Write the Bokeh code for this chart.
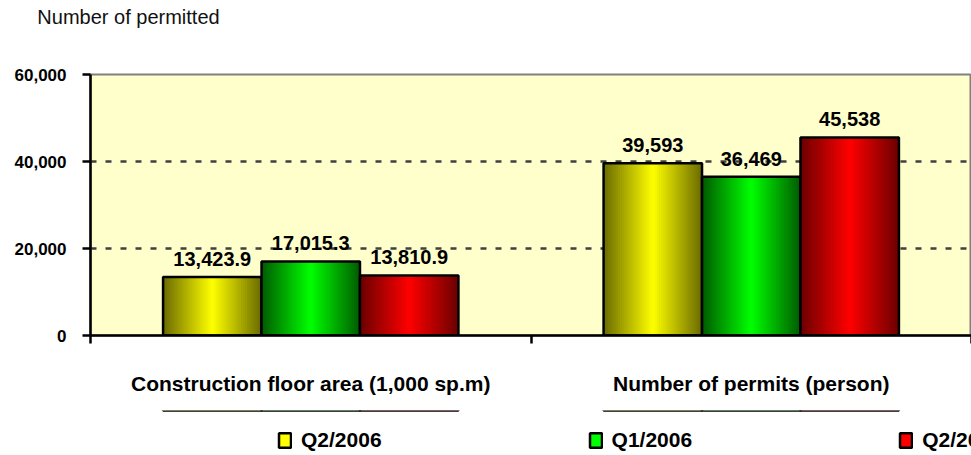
from bokeh.plotting import figure
from bokeh.layouts import column
from bokeh.models import (Range1d, LinearAxis, FixedTicker,
                          NumeralTickFormatter, Legend, LegendItem, ColumnDataSource)
from bokeh.transform import dodge
from bokeh.core.properties import value
from bokeh.embed import file_html
from bokeh.resources import INLINE

# ---- data ----
categories = ["Construction floor area (1,000 sp.m)", "Number of permits (person)"]
series_names = ["Q2/2006", "Q1/2006", "Q2/2005"]
q2_2006 = [13423.9, 39593]
q1_2006 = [17015.3, 36469]
q2_2005 = [13810.9, 45538]
label_decimals = [1, 0]
y_ticks = [0, 20000, 40000, 60000]
title_text = "Number of permitted"

# ---- styles ----
FONT = "Liberation Sans"
bright = ["#FFFF00", "#00FF00", "#FF0000"]
dark = ["#6A6A00", "#005A00", "#6A0000"]
bar_w = 0.2235
offsets = [-bar_w, 0.0, bar_w]
title_pos = 0.0863   # horizontal centre of the title, in category units

ncat = len(categories)
centers = [i + 0.5 for i in range(ncat)]
edges = [float(i) for i in range(ncat + 1)]
series_vals = [q2_2006, q1_2006, q2_2005]
keys = ["s0", "s1", "s2"]
data = dict(xc=centers)
for k, vals in zip(keys, series_vals):
    data[k] = vals
    data[k + "_lbl"] = [f"{v:,.{d}f}" for v, d in zip(vals, label_decimals)]
src = ColumnDataSource(data)

p = figure(x_range=Range1d(0, ncat),
           y_range=Range1d(0, 60000),
           frame_width=881, frame_height=261,
           output_backend="svg", toolbar_location=None,
           x_axis_location=None,
           min_border_left=90, min_border_right=0, min_border_top=74, min_border_bottom=75)

p.background_fill_color = "#FFFFCC"
p.border_fill_color = "white"
p.outline_line_color = "#808080"
p.outline_line_width = 2

# title text, drawn as the single label of an otherwise invisible top axis
tax = LinearAxis(ticker=FixedTicker(ticks=[title_pos]),
                 major_label_overrides={title_pos: title_text},
                 axis_line_color=None, major_tick_line_color=None, minor_tick_line_color=None,
                 major_tick_in=0, major_tick_out=0, minor_tick_out=0,
                 major_label_text_font=FONT, major_label_text_font_size="20px",
                 major_label_text_font_style="normal", major_label_text_color="#111111",
                 major_label_standoff=47)
p.add_layout(tax, "above")

# grid
p.xgrid.visible = False
p.ygrid.ticker = FixedTicker(ticks=y_ticks[1:])
p.ygrid.grid_line_color = "#404040"
p.ygrid.grid_line_dash = "6 9"
p.ygrid.grid_line_width = 2.5

# y axis
yax = p.yaxis[0]
yax.ticker = FixedTicker(ticks=y_ticks)
yax.formatter = NumeralTickFormatter(format="0,0")
yax.axis_line_color = "black"
yax.axis_line_width = 2.5
yax.major_tick_line_color = "black"
yax.major_tick_line_width = 2.5
yax.major_tick_in = 0
yax.major_tick_out = 8
yax.minor_tick_line_color = None
yax.major_label_text_font = FONT
yax.major_label_text_font_size = "17px"
yax.major_label_text_font_style = "bold"
yax.major_label_text_color = "black"
yax.major_label_standoff = 16

# x axis: category names at centers, tick marks at category boundaries
xax = LinearAxis(ticker=FixedTicker(ticks=centers, minor_ticks=edges),
                 major_label_overrides={c: name for c, name in zip(centers, categories)},
                 axis_line_color="black", axis_line_width=2.5,
                 major_tick_line_color=None, major_tick_in=0, major_tick_out=8,
                 minor_tick_line_color="black", minor_tick_line_width=2.5,
                 minor_tick_in=0, minor_tick_out=8,
                 major_label_text_font=FONT, major_label_text_font_size="21px",
                 major_label_text_font_style="bold", major_label_text_color="black",
                 major_label_standoff=28)
p.add_layout(xax, "below")

# bars with simulated horizontal gradient
def mix(c1, c2, t):
    a = [int(c1[i:i + 2], 16) for i in (1, 3, 5)]
    b = [int(c2[i:i + 2], 16) for i in (1, 3, 5)]
    return "#%02x%02x%02x" % tuple(round(x + (y - x) * t) for x, y in zip(a, b))

N = 24
for si, (k, off) in enumerate(zip(keys, offsets)):
    xs = dodge("xc", off)
    for j in range(N):
        w = bar_w * (N - j) / N
        d = (N - j - 0.5) / N
        col = mix(bright[si], dark[si], d)
        p.vbar(x=xs, top=k, bottom=0, width=w, source=src,
               fill_color=col, line_color=None)
    p.vbar(x=xs, top=k, bottom=0, width=bar_w, source=src,
           fill_color=None, line_color="black", line_width=2.5)
    p.text(x=xs, y=k, text=k + "_lbl", source=src,
           text_font=value(FONT), text_font_size=value("20px"), text_font_style="bold",
           text_color="black", text_align="center", text_baseline="alphabetic",
           y_offset=-18)

# ---- legend strip: a small figure under the chart ----
lf = figure(x_range=Range1d(0, ncat), y_range=Range1d(-2, -1),
            width=971, height=45, output_backend="svg", toolbar_location=None,
            x_axis_location=None, y_axis_location=None,
            min_border_left=0, min_border_right=0, min_border_top=0, min_border_bottom=0)
lf.outline_line_color = None
lf.background_fill_color = "white"
lf.border_fill_color = "white"
lf.xgrid.visible = False
lf.ygrid.visible = False

legend_items = []
for si, (k, off) in enumerate(zip(keys, offsets)):
    xs = dodge("xc", off)
    sw_fill = lf.vbar(x=xs, top=k, bottom=0, width=bar_w, source=src,
                      fill_color=bright[si], line_color=None)
    sw_line = lf.vbar(x=xs, top=k, bottom=0, width=bar_w, source=src,
                      fill_color=None, line_color="black", line_width=2.5)
    legend_items.append(LegendItem(label=series_names[si], renderers=[sw_fill, sw_line]))

legend = Legend(items=legend_items, orientation="horizontal", location=(187, 3),
                spacing=206, glyph_width=15, glyph_height=18, label_standoff=9,
                label_text_font=FONT, label_text_font_size="21px",
                label_text_font_style="bold", label_text_color="black",
                border_line_color=None, background_fill_alpha=0,
                padding=0, margin=0)
lf.add_layout(legend, "center")

layout = column(p, lf, spacing=0)
open("out.html", "w").write(file_html(layout, INLINE))
